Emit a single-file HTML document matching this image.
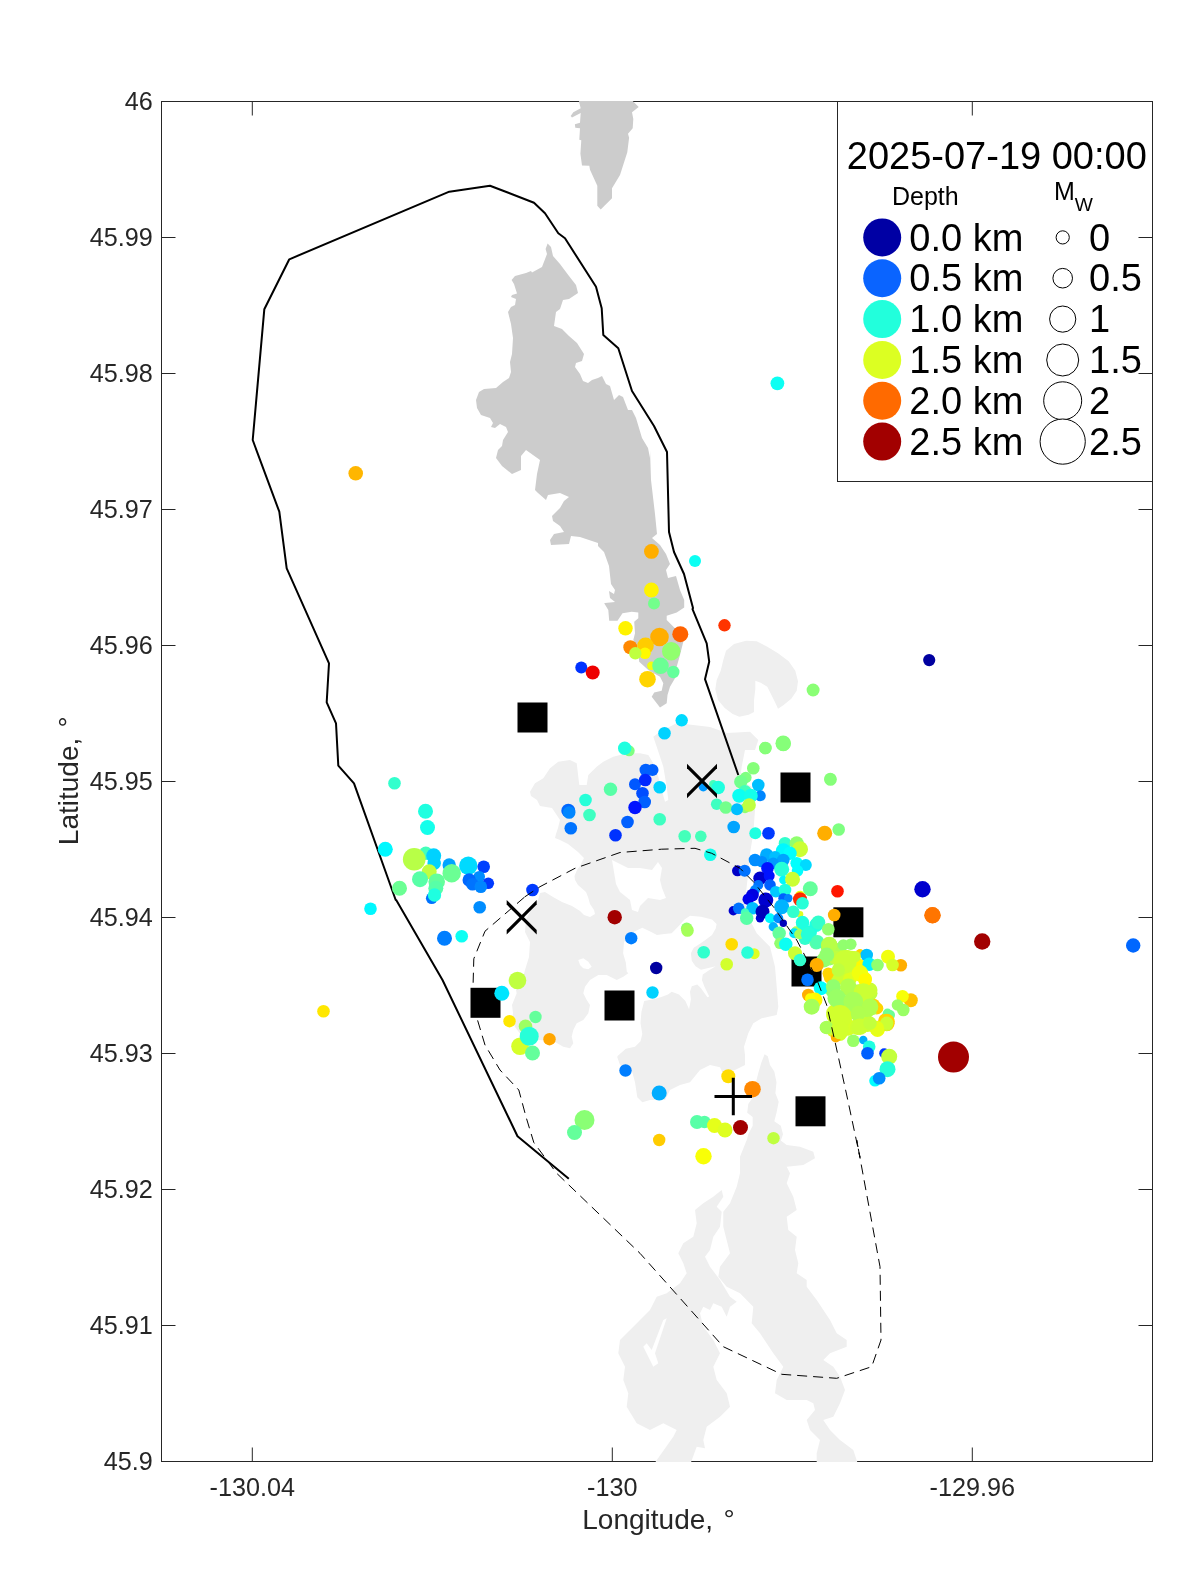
<!DOCTYPE html>
<html><head><meta charset="utf-8"><title>Seismicity map</title>
<style>
html,body{margin:0;padding:0;background:#fff}
svg{display:block;will-change:transform}
text{font-family:"Liberation Sans",Arial,Helvetica,sans-serif;fill:#262626}
.tk{font-size:25.2px}
.lg{font-size:38px;fill:#000}
</style></head><body>
<svg width="1200" height="1575" viewBox="0 0 1200 1575">
<rect width="1200" height="1575" fill="#fff"/>
<rect x="161.5" y="101.5" width="991.0" height="1360.0" fill="#fff" stroke="#262626" stroke-width="1"/>
<path d="M161.5 237.5 h14 M1152.5 237.5 h-14 M161.5 373.5 h14 M1152.5 373.5 h-14 M161.5 509.5 h14 M1152.5 509.5 h-14 M161.5 645.5 h14 M1152.5 645.5 h-14 M161.5 781.5 h14 M1152.5 781.5 h-14 M161.5 917.5 h14 M1152.5 917.5 h-14 M161.5 1053.5 h14 M1152.5 1053.5 h-14 M161.5 1189.5 h14 M1152.5 1189.5 h-14 M161.5 1325.5 h14 M1152.5 1325.5 h-14 M252.3 1461.5 v-14 M252.3 101.5 v14 M612.3 1461.5 v-14 M612.3 101.5 v14 M972.3 1461.5 v-14 M972.3 101.5 v14" stroke="#262626" stroke-width="1" fill="none"/>
<defs><clipPath id="ax"><rect x="161.0" y="101.0" width="992.0" height="1361.0"/></clipPath></defs>
<g clip-path="url(#ax)">
<path d="M530.0 791.7 L535.0 783.3 L543.3 778.3 L550.0 768.3 L558.3 761.7 L570.0 760.0 L576.7 763.3 L578.3 776.7 L579.3 785.0 L586.7 785.0 L588.3 775.0 L596.7 766.7 L603.3 761.7 L613.3 756.7 L626.7 753.3 L640.0 753.3 L648.3 755.0 L653.3 763.3 L658.3 776.7 L661.7 790.0 L665.0 801.7 L668.3 800.0 L666.7 786.7 L663.3 766.7 L656.7 746.7 L653.3 736.7 L660.0 731.7 L677.0 723.0 L693.3 725.0 L710.0 727.0 L727.0 733.0 L750.0 731.7 L758.3 740.0 L755.0 750.0 L745.0 750.0 L741.7 766.7 L740.0 780.0 L751.7 786.7 L755.0 810.0 L753.3 833.3 L750.0 853.3 L748.3 873.3 L745.0 900.0 L748.3 916.7 L756.7 933.3 L770.0 946.7 L775.0 966.7 L776.7 986.7 L778.3 1006.7 L776.7 1015.0 L761.7 1018.3 L753.3 1023.3 L748.3 1033.3 L744.0 1046.7 L745.0 1055.0 L745.0 1065.0 L735.0 1070.0 L722.3 1072.3 L720.0 1067.3 L710.0 1065.0 L700.0 1070.0 L690.0 1082.3 L680.0 1085.0 L670.0 1090.0 L665.0 1100.0 L650.0 1100.0 L642.3 1102.3 L637.3 1097.3 L635.0 1082.3 L632.3 1072.3 L620.0 1065.0 L617.3 1057.3 L617.6 1056.0 L625.8 1048.7 L635.0 1046.8 L640.5 1041.3 L642.3 1034.0 L640.5 1023.0 L641.4 1012.0 L644.2 1001.0 L653.3 999.2 L660.7 997.3 L668.0 994.6 L671.7 991.8 L679.0 994.6 L685.4 1001.0 L689.1 1009.2 L690.9 999.2 L690.0 991.8 L691.8 986.3 L697.3 984.5 L701.0 988.2 L707.4 997.3 L709.2 996.4 L704.7 987.2 L701.9 979.9 L702.8 974.4 L708.3 970.8 L715.7 966.2 L708.3 968.0 L701.0 969.8 L695.5 966.2 L691.8 960.7 L690.9 953.3 L693.7 947.8 L699.2 944.2 L704.7 940.5 L712.0 935.0 L715.7 928.6 L716.6 924.0 L712.0 919.4 L701.0 916.7 L690.0 915.8 L684.5 919.4 L679.0 925.8 L671.7 933.2 L664.3 934.1 L657.0 935.0 L649.7 931.3 L642.3 927.7 L635.0 931.3 L627.7 935.0 L624.0 942.3 L623.1 953.3 L625.8 962.5 L626.8 971.7 L628.3 973.3 L623.3 976.7 L616.7 980.0 L606.7 975.0 L598.3 975.0 L590.0 980.0 L585.0 986.7 L583.3 993.3 L586.7 1000.0 L590.0 1005.0 L588.3 1013.3 L583.3 1020.0 L576.7 1023.3 L573.3 1030.0 L571.7 1036.7 L573.3 1043.3 L570.0 1048.3 L563.3 1046.7 L555.0 1042.0 L540.0 1040.0 L525.0 1040.0 L515.0 1027.0 L512.0 1020.0 L513.0 1013.0 L512.0 1005.0 L516.7 993.3 L516.0 990.0 L522.0 982.0 L525.0 970.0 L529.0 957.0 L530.0 942.0 L525.0 932.0 L526.0 920.0 L531.7 908.3 L538.0 900.0 L540.0 893.0 L545.0 892.0 L553.0 897.0 L562.0 902.0 L572.0 906.0 L580.0 911.0 L584.0 915.0 L590.0 917.0 L595.0 914.0 L594.0 910.0 L590.0 904.0 L588.0 897.0 L586.0 892.0 L578.0 885.0 L575.0 880.0 L574.5 876.0 L577.0 870.0 L580.0 866.0 L584.0 858.0 L578.0 852.0 L568.0 844.0 L560.0 840.0 L555.0 838.0 L556.0 834.0 L558.0 828.0 L560.0 820.0 L552.0 808.0 L540.0 806.0 L537.0 800.0 L531.0 796.0 Z" fill="#efefef"/>
<path d="M715.3 689.3 L716.7 680.0 L720.7 670.7 L723.3 660.0 L726.0 650.7 L734.0 644.0 L746.0 640.7 L756.7 641.3 L767.3 646.7 L778.0 653.3 L788.7 661.3 L795.3 670.7 L798.0 681.3 L796.7 690.7 L791.3 698.7 L783.3 705.3 L778.0 708.7 L775.3 702.7 L771.3 694.7 L767.3 686.7 L760.7 682.7 L755.3 680.7 L755.3 689.3 L754.0 700.0 L754.0 712.0 L748.7 714.7 L739.3 716.7 L732.7 714.0 L724.7 708.0 L718.0 700.0 Z" fill="#efefef"/>
<path d="M721.7 1190.0 L723.3 1196.7 L716.7 1206.7 L721.7 1211.7 L720.0 1226.7 L713.3 1236.7 L710.0 1250.0 L705.0 1256.7 L710.0 1266.7 L720.0 1280.0 L730.0 1296.7 L736.7 1301.7 L730.0 1306.7 L726.7 1316.7 L721.7 1306.7 L713.3 1303.3 L710.0 1310.0 L703.3 1306.7 L700.0 1313.3 L703.3 1326.7 L713.3 1340.0 L720.0 1353.3 L713.3 1366.7 L716.7 1380.0 L726.7 1393.3 L730.0 1406.7 L720.0 1416.7 L706.7 1426.7 L703.3 1440.0 L705.0 1448.3 L696.7 1446.7 L690.0 1465.0 L653.3 1465.0 L673.3 1436.7 L676.7 1430.0 L663.3 1423.3 L650.0 1430.0 L636.7 1423.3 L626.7 1406.7 L628.3 1393.3 L623.3 1380.0 L625.0 1366.7 L618.3 1353.3 L620.0 1340.0 L633.3 1326.7 L650.0 1310.0 L656.7 1296.7 L666.7 1293.3 L680.0 1283.3 L686.7 1273.3 L683.3 1263.3 L678.3 1253.3 L683.3 1243.3 L693.3 1236.7 L696.7 1223.3 L695.0 1210.0 L703.3 1203.3 L713.3 1196.7 Z" fill="#efefef"/>
<path d="M764.6 1054.2 L767.8 1056.3 L770.0 1065.0 L774.3 1071.5 L776.5 1082.3 L775.4 1093.2 L778.7 1101.8 L776.5 1112.7 L774.3 1121.3 L780.8 1125.7 L783.0 1134.3 L780.8 1140.8 L780.0 1140.0 L786.7 1145.0 L800.0 1146.7 L813.3 1151.7 L815.0 1158.3 L803.3 1165.0 L786.7 1166.7 L790.0 1173.3 L786.7 1183.3 L793.3 1196.7 L796.7 1210.0 L786.7 1216.7 L788.3 1230.0 L796.7 1236.7 L795.0 1250.0 L798.3 1263.3 L796.7 1273.3 L806.7 1280.0 L806.7 1286.7 L816.7 1300.0 L830.0 1320.0 L836.7 1333.3 L846.7 1340.0 L846.7 1346.7 L830.0 1353.3 L823.3 1360.0 L833.3 1366.7 L840.0 1376.7 L845.0 1390.0 L840.0 1403.3 L833.3 1416.7 L823.3 1420.0 L830.0 1430.0 L840.0 1440.0 L853.3 1450.0 L858.3 1465.0 L816.7 1465.0 L816.7 1453.3 L820.0 1440.0 L810.0 1430.0 L806.7 1420.0 L815.0 1410.0 L813.3 1403.3 L806.7 1400.0 L786.7 1400.0 L775.0 1393.3 L776.7 1380.0 L783.3 1366.7 L773.3 1353.3 L760.0 1333.3 L751.7 1323.3 L753.3 1306.7 L740.0 1293.3 L726.7 1286.7 L718.3 1276.7 L720.0 1266.7 L730.0 1253.3 L723.3 1226.7 L723.3 1211.7 L730.0 1203.3 L736.7 1186.7 L740.0 1173.3 L740.0 1156.7 L746.7 1140.0 L746.6 1140.8 L748.3 1134.3 L752.7 1125.7 L752.7 1117.0 L747.2 1112.7 L748.3 1104.0 L752.7 1097.5 L754.8 1086.7 L758.1 1073.7 L761.3 1062.8 Z" fill="#efefef"/>
<path d="M578.7 100.3 L632.0 100.3 L638.7 107.0 L632.0 112.3 L633.3 119.0 L632.7 128.3 L628.0 133.7 L629.1 137.7 L627.3 152.3 L620.0 175.0 L612.0 188.3 L612.0 198.3 L600.7 209.4 L597.3 205.7 L597.3 185.7 L590.0 169.7 L589.3 165.7 L582.0 165.4 L580.4 153.7 L581.3 140.3 L579.3 139.7 L580.0 128.3 L575.3 127.7 L574.9 124.3 L580.0 122.7 L580.7 113.0 L572.0 117.4 L570.7 116.1 L573.3 112.3 L580.7 108.3 Z" fill="#cccccc"/>
<path d="M547.6 243.6 L551.0 247.0 L553.0 256.0 L560.0 264.0 L569.0 276.0 L576.0 285.0 L578.0 293.0 L569.0 299.0 L563.0 300.0 L560.0 309.0 L556.0 312.0 L554.0 326.0 L562.0 329.0 L569.0 336.0 L577.0 343.0 L584.0 354.0 L582.0 361.0 L576.0 363.0 L575.0 367.0 L580.0 374.0 L583.0 381.0 L588.0 383.0 L592.0 380.0 L598.0 378.0 L602.0 376.0 L606.0 384.0 L610.0 386.0 L614.0 400.0 L619.0 395.0 L623.0 397.0 L628.0 410.0 L632.0 410.0 L636.0 418.0 L642.0 438.0 L648.0 448.0 L650.0 458.0 L650.0 450.0 L651.0 480.0 L655.0 514.0 L657.0 534.0 L652.0 538.0 L660.0 545.0 L666.0 554.0 L670.0 564.0 L666.0 570.0 L668.0 578.0 L676.0 576.0 L680.0 590.0 L684.2 600.0 L684.2 607.5 L676.7 612.5 L666.7 615.8 L666.7 620.0 L676.7 630.0 L683.3 641.7 L680.0 655.0 L676.7 666.7 L675.0 678.3 L670.0 686.7 L667.5 695.0 L666.7 703.3 L660.0 707.5 L651.7 696.7 L654.2 692.5 L661.7 690.8 L663.3 683.3 L660.0 676.7 L648.3 670.0 L639.2 661.7 L638.3 650.0 L633.3 640.0 L635.0 633.3 L634.2 621.7 L638.3 618.3 L638.3 612.5 L631.7 611.7 L622.5 613.3 L617.5 620.8 L609.2 620.8 L608.3 610.0 L604.2 603.3 L605.0 603.0 L615.0 602.0 L610.0 598.0 L609.0 591.0 L614.0 594.0 L615.0 590.0 L611.0 584.0 L609.0 566.0 L604.0 552.0 L598.0 546.0 L598.0 543.0 L580.0 537.0 L571.0 536.0 L569.0 544.0 L551.0 545.0 L550.0 540.0 L554.0 534.0 L564.0 532.0 L560.0 526.0 L553.0 521.0 L552.0 516.0 L560.0 508.0 L564.0 501.0 L569.0 497.0 L560.0 493.0 L548.0 495.0 L546.0 500.0 L538.0 493.0 L535.0 490.0 L537.0 474.0 L540.0 460.0 L526.0 450.0 L521.0 456.0 L521.0 470.0 L512.0 474.0 L502.0 466.0 L496.0 458.0 L497.0 450.0 L496.0 458.0 L498.0 450.0 L502.0 446.0 L503.0 440.0 L508.0 432.0 L506.0 427.0 L500.0 424.0 L495.0 428.0 L491.0 427.0 L493.0 423.0 L490.0 418.0 L481.0 415.0 L477.0 408.0 L476.0 400.0 L479.0 392.0 L484.0 389.0 L496.0 388.0 L503.0 382.0 L509.0 378.0 L511.0 372.0 L510.0 362.0 L512.0 354.0 L513.0 338.0 L511.0 324.0 L508.0 312.0 L511.0 307.0 L515.0 305.0 L516.0 299.0 L511.0 297.0 L512.0 295.0 L517.0 293.6 L514.0 284.0 L511.6 280.0 L515.0 276.0 L526.0 273.0 L531.0 271.0 L532.0 272.4 L542.0 267.0 L547.0 254.0 L545.6 249.0 Z" fill="#cccccc"/>
<path d="M578.3 960.0 L583.3 958.3 L588.3 961.7 L591.7 966.7 L588.3 969.2 L583.3 968.3 L580.0 965.0 Z" fill="#fff"/>
<path d="M612.0 860.0 L620.0 864.0 L628.0 868.0 L640.0 868.0 L652.0 870.0 L658.0 862.0 L662.0 868.0 L660.0 880.0 L662.0 888.0 L666.0 898.0 L660.0 900.0 L648.0 898.0 L640.0 906.0 L638.0 912.0 L632.0 910.0 L630.0 900.0 L620.0 892.0 L616.0 884.0 L614.0 872.0 Z" fill="#fff"/>
<path d="M666.7 1318.3 L655.0 1353.3 L658.3 1363.3 L653.3 1366.7 L643.3 1346.7 L646.7 1343.3 L651.7 1350.0 L663.3 1320.0 Z" fill="#fff"/>
<path d="M568.8 1178.8 L517.5 1136.2 L442.5 980.0 L396.2 900.0 L395.7 900.0 L354.0 783.3 L338.3 765.7 L336.0 723.3 L326.7 702.3 L329.0 663.3 L286.7 568.3 L279.3 511.7 L252.7 440.0 L264.3 309.3 L289.3 259.3 L449.3 191.7 L490.0 185.7 L534.0 202.7 L545.0 213.3 L558.3 233.3 L565.0 238.3 L596.0 286.7 L601.7 308.3 L603.3 335.0 L618.3 348.3 L632.0 391.0 L654.0 426.0 L667.0 452.0 L669.0 532.0 L674.0 552.0 L684.0 574.0 L693.0 608.0 L692.5 609.2 L706.7 643.3 L709.2 661.7 L705.0 679.2 L738.3 775.0" fill="none" stroke="#000" stroke-width="2" stroke-linejoin="round"/>
<rect x="517.5" y="702.5" width="30" height="30" fill="#000"/>
<rect x="470.5" y="987.8" width="30" height="30" fill="#000"/>
<rect x="604.5" y="990.5" width="30" height="30" fill="#000"/>
<rect x="780.5" y="772.5" width="30" height="30" fill="#000"/>
<rect x="833.4" y="907.3" width="30" height="30" fill="#000"/>
<rect x="791.5" y="956.5" width="30" height="30" fill="#000"/>
<rect x="795.5" y="1096.3" width="30" height="30" fill="#000"/>
<circle cx="625.5" cy="628.3" r="7.2" fill="#fff300"/>
<circle cx="659.5" cy="637.0" r="9.3" fill="#ffae00"/>
<circle cx="680.3" cy="634.2" r="8.0" fill="#ff6200"/>
<circle cx="630.3" cy="647.2" r="7.0" fill="#ff8800"/>
<circle cx="645.5" cy="645.8" r="8.3" fill="#ffcc00"/>
<circle cx="645.0" cy="653.3" r="5.8" fill="#fffa00"/>
<circle cx="635.3" cy="653.3" r="6.2" fill="#bfff40"/>
<circle cx="671.2" cy="651.3" r="9.2" fill="#91ff6e"/>
<circle cx="651.3" cy="665.8" r="4.2" fill="#f1ff0e"/>
<circle cx="660.5" cy="665.8" r="8.3" fill="#6bff94"/>
<circle cx="673.3" cy="672.0" r="6.2" fill="#64ff9b"/>
<circle cx="647.5" cy="679.2" r="8.3" fill="#ffd400"/>
<circle cx="581.3" cy="667.5" r="6.0" fill="#0032ff"/>
<circle cx="592.7" cy="672.5" r="7.0" fill="#ee0000"/>
<circle cx="724.5" cy="625.3" r="6.2" fill="#ff3400"/>
<circle cx="681.7" cy="720.3" r="6.2" fill="#00daff"/>
<circle cx="664.5" cy="733.3" r="6.3" fill="#00d2ff"/>
<circle cx="651.4" cy="551.4" r="7.4" fill="#ffae00"/>
<circle cx="695.0" cy="561.0" r="6.0" fill="#0cfff3"/>
<circle cx="651.4" cy="590.0" r="7.4" fill="#fff300"/>
<circle cx="654.0" cy="603.6" r="6.0" fill="#73ff8c"/>
<circle cx="355.7" cy="473.3" r="7.3" fill="#ffb600"/>
<circle cx="777.4" cy="383.3" r="6.9" fill="#0cfff3"/>
<circle cx="929.2" cy="660.1" r="6.1" fill="#0000a0"/>
<circle cx="813.1" cy="690.0" r="6.5" fill="#8aff75"/>
<circle cx="783.2" cy="743.3" r="7.7" fill="#86ff79"/>
<circle cx="765.2" cy="748.2" r="6.1" fill="#86ff79"/>
<circle cx="830.3" cy="778.9" r="6.1" fill="#86ff79"/>
<circle cx="922.5" cy="889.2" r="8.2" fill="#0000ce"/>
<circle cx="932.5" cy="915.2" r="8.2" fill="#ff7500"/>
<circle cx="982.2" cy="941.5" r="8.2" fill="#a20000"/>
<circle cx="1133.2" cy="945.5" r="7.2" fill="#0067ff"/>
<circle cx="953.5" cy="1057.0" r="15.5" fill="#a20000"/>
<circle cx="765.5" cy="748.0" r="6.3" fill="#86ff79"/>
<circle cx="783.3" cy="743.7" r="7.5" fill="#86ff79"/>
<circle cx="753.3" cy="768.3" r="6.3" fill="#86ff79"/>
<circle cx="830.5" cy="779.5" r="6.3" fill="#86ff79"/>
<circle cx="745.8" cy="777.5" r="5.8" fill="#7eff81"/>
<circle cx="740.8" cy="781.7" r="6.7" fill="#73ff8c"/>
<circle cx="758.3" cy="785.0" r="6.3" fill="#00bfff"/>
<circle cx="760.3" cy="795.8" r="5.5" fill="#0086ff"/>
<circle cx="713.3" cy="784.2" r="4.2" fill="#45ffba"/>
<circle cx="703.3" cy="786.7" r="4.7" fill="#0099ff"/>
<circle cx="718.3" cy="787.5" r="6.7" fill="#1fffe0"/>
<circle cx="745.0" cy="791.7" r="6.7" fill="#45ffba"/>
<circle cx="739.2" cy="795.8" r="7.0" fill="#0cfff3"/>
<circle cx="750.8" cy="795.8" r="7.0" fill="#14ffeb"/>
<circle cx="745.0" cy="808.3" r="5.0" fill="#91ff6e"/>
<circle cx="749.2" cy="805.0" r="6.7" fill="#bfff40"/>
<circle cx="716.7" cy="804.2" r="5.8" fill="#3effc1"/>
<circle cx="725.8" cy="807.5" r="6.3" fill="#73ff8c"/>
<circle cx="737.0" cy="809.2" r="6.0" fill="#00bfff"/>
<circle cx="733.7" cy="827.0" r="6.3" fill="#00a4ff"/>
<circle cx="755.3" cy="833.3" r="6.0" fill="#1fffe0"/>
<circle cx="768.5" cy="833.3" r="6.3" fill="#003aff"/>
<circle cx="700.8" cy="836.3" r="5.8" fill="#45ffba"/>
<circle cx="710.3" cy="854.7" r="6.3" fill="#14ffeb"/>
<circle cx="824.7" cy="833.3" r="7.5" fill="#ffae00"/>
<circle cx="838.7" cy="829.5" r="6.3" fill="#7eff81"/>
<circle cx="837.5" cy="891.3" r="6.3" fill="#ff1600"/>
<circle cx="785.0" cy="843.3" r="6.3" fill="#32ffcd"/>
<circle cx="796.7" cy="843.3" r="7.0" fill="#91ff6e"/>
<circle cx="800.0" cy="849.2" r="8.0" fill="#cbff34"/>
<circle cx="783.3" cy="850.8" r="7.5" fill="#00f8ff"/>
<circle cx="790.0" cy="853.3" r="6.7" fill="#01fffe"/>
<circle cx="766.7" cy="855.0" r="6.7" fill="#00acff"/>
<circle cx="775.0" cy="856.7" r="5.8" fill="#00bfff"/>
<circle cx="755.0" cy="860.0" r="6.3" fill="#008dff"/>
<circle cx="761.7" cy="861.7" r="5.8" fill="#008dff"/>
<circle cx="783.3" cy="860.0" r="6.3" fill="#00a4ff"/>
<circle cx="773.3" cy="863.3" r="5.8" fill="#0099ff"/>
<circle cx="796.7" cy="863.3" r="6.3" fill="#01fffe"/>
<circle cx="805.8" cy="865.0" r="6.0" fill="#00daff"/>
<circle cx="781.7" cy="869.2" r="7.5" fill="#27ffd8"/>
<circle cx="767.5" cy="868.3" r="6.3" fill="#0013ff"/>
<circle cx="797.5" cy="870.8" r="5.8" fill="#01fffe"/>
<circle cx="737.5" cy="870.8" r="5.5" fill="#0000c6"/>
<circle cx="744.7" cy="870.8" r="6.0" fill="#0073ff"/>
<circle cx="783.3" cy="880.0" r="4.2" fill="#00f8ff"/>
<circle cx="760.0" cy="878.3" r="6.7" fill="#0000ce"/>
<circle cx="769.2" cy="875.8" r="5.5" fill="#0013ff"/>
<circle cx="792.5" cy="879.2" r="7.5" fill="#cbff34"/>
<circle cx="758.3" cy="885.0" r="5.0" fill="#0073ff"/>
<circle cx="770.0" cy="885.0" r="5.8" fill="#0060ff"/>
<circle cx="810.3" cy="888.8" r="7.5" fill="#64ff9b"/>
<circle cx="755.0" cy="890.0" r="5.0" fill="#0086ff"/>
<circle cx="775.8" cy="891.7" r="5.8" fill="#00caff"/>
<circle cx="785.0" cy="890.0" r="6.3" fill="#1fffe0"/>
<circle cx="752.5" cy="895.0" r="6.3" fill="#0000e1"/>
<circle cx="748.3" cy="899.2" r="5.8" fill="#0000ec"/>
<circle cx="765.8" cy="900.0" r="7.5" fill="#0000ce"/>
<circle cx="800.0" cy="895.8" r="5.0" fill="#f1ff0e"/>
<circle cx="800.0" cy="899.2" r="7.0" fill="#ff2900"/>
<circle cx="802.5" cy="903.3" r="6.3" fill="#27ffd8"/>
<circle cx="783.3" cy="898.3" r="5.0" fill="#0060ff"/>
<circle cx="788.3" cy="898.3" r="4.2" fill="#0086ff"/>
<circle cx="781.7" cy="906.7" r="7.5" fill="#00b3ff"/>
<circle cx="733.3" cy="910.8" r="4.7" fill="#0000ce"/>
<circle cx="738.7" cy="908.3" r="5.8" fill="#0073ff"/>
<circle cx="752.5" cy="908.3" r="6.3" fill="#00bfff"/>
<circle cx="745.0" cy="912.5" r="4.2" fill="#45ffba"/>
<circle cx="746.7" cy="918.3" r="6.7" fill="#58ffa7"/>
<circle cx="760.0" cy="918.3" r="4.2" fill="#0000ce"/>
<circle cx="762.5" cy="911.7" r="7.0" fill="#0000bb"/>
<circle cx="827.5" cy="946.7" r="7.1" fill="#99ff66"/>
<circle cx="838.3" cy="950.0" r="7.1" fill="#b0ff4f"/>
<circle cx="830.0" cy="958.3" r="7.1" fill="#99ff66"/>
<circle cx="842.5" cy="960.0" r="7.5" fill="#ceff31"/>
<circle cx="851.7" cy="958.3" r="7.5" fill="#ceff31"/>
<circle cx="845.0" cy="970.0" r="7.5" fill="#ceff31"/>
<circle cx="855.0" cy="971.7" r="7.5" fill="#d6ff29"/>
<circle cx="858.3" cy="965.0" r="6.7" fill="#fffa00"/>
<circle cx="865.0" cy="979.2" r="6.7" fill="#fffa00"/>
<circle cx="829.2" cy="974.2" r="6.2" fill="#ffd400"/>
<circle cx="833.3" cy="988.3" r="7.5" fill="#8aff75"/>
<circle cx="836.7" cy="998.3" r="7.5" fill="#91ff6e"/>
<circle cx="848.3" cy="988.3" r="7.5" fill="#b0ff4f"/>
<circle cx="858.3" cy="991.7" r="7.5" fill="#bfff40"/>
<circle cx="870.0" cy="993.3" r="7.5" fill="#bfff40"/>
<circle cx="851.7" cy="1001.7" r="7.5" fill="#9dff62"/>
<circle cx="863.3" cy="1005.0" r="7.5" fill="#a8ff57"/>
<circle cx="876.7" cy="1008.3" r="6.2" fill="#ffd400"/>
<circle cx="871.7" cy="1008.3" r="7.1" fill="#b0ff4f"/>
<circle cx="834.2" cy="1012.5" r="7.9" fill="#d6ff29"/>
<circle cx="844.2" cy="1016.7" r="7.9" fill="#d6ff29"/>
<circle cx="838.3" cy="1026.7" r="7.9" fill="#d6ff29"/>
<circle cx="848.3" cy="1028.3" r="7.5" fill="#d6ff29"/>
<circle cx="840.0" cy="1034.2" r="6.7" fill="#d6ff29"/>
<circle cx="858.3" cy="1025.0" r="7.5" fill="#ceff31"/>
<circle cx="868.3" cy="1023.3" r="7.5" fill="#cbff34"/>
<circle cx="878.3" cy="1029.2" r="6.7" fill="#f1ff0e"/>
<circle cx="886.7" cy="1023.3" r="7.9" fill="#ffcc00"/>
<circle cx="886.7" cy="1024.2" r="6.7" fill="#c3ff3c"/>
<circle cx="825.8" cy="1027.5" r="6.2" fill="#9dff62"/>
<circle cx="856.7" cy="1013.3" r="7.5" fill="#b0ff4f"/>
<circle cx="830.0" cy="945.0" r="7.5" fill="#9dff62"/>
<circle cx="823.8" cy="960.0" r="7.5" fill="#91ff6e"/>
<circle cx="835.0" cy="957.5" r="6.9" fill="#bfff40"/>
<circle cx="830.0" cy="977.5" r="6.2" fill="#ffd400"/>
<circle cx="838.8" cy="977.5" r="7.5" fill="#cbff34"/>
<circle cx="850.0" cy="978.8" r="6.9" fill="#deff21"/>
<circle cx="847.5" cy="957.5" r="7.5" fill="#cbff34"/>
<circle cx="857.5" cy="967.5" r="6.9" fill="#fffa00"/>
<circle cx="865.0" cy="978.8" r="6.9" fill="#fffa00"/>
<circle cx="870.0" cy="990.0" r="7.5" fill="#cbff34"/>
<circle cx="861.2" cy="997.5" r="7.5" fill="#b8ff47"/>
<circle cx="840.0" cy="1000.0" r="7.5" fill="#91ff6e"/>
<circle cx="832.5" cy="990.0" r="7.5" fill="#8aff75"/>
<circle cx="873.8" cy="1005.0" r="6.2" fill="#ffd400"/>
<circle cx="867.5" cy="1010.0" r="7.5" fill="#b0ff4f"/>
<circle cx="835.0" cy="1015.0" r="8.8" fill="#d6ff29"/>
<circle cx="845.0" cy="1025.0" r="8.8" fill="#d6ff29"/>
<circle cx="833.8" cy="1030.0" r="7.5" fill="#d6ff29"/>
<circle cx="857.5" cy="1027.5" r="7.5" fill="#ceff31"/>
<circle cx="867.5" cy="1025.0" r="6.9" fill="#cbff34"/>
<circle cx="877.5" cy="1030.0" r="6.9" fill="#f1ff0e"/>
<circle cx="886.2" cy="1021.2" r="8.1" fill="#ffcc00"/>
<circle cx="890.0" cy="1015.0" r="5.0" fill="#6bff94"/>
<circle cx="810.0" cy="932.5" r="6.9" fill="#1fffe0"/>
<circle cx="802.5" cy="925.0" r="6.2" fill="#18ffe7"/>
<circle cx="816.2" cy="925.0" r="6.9" fill="#1fffe0"/>
<circle cx="805.0" cy="938.8" r="6.2" fill="#32ffcd"/>
<circle cx="816.2" cy="942.5" r="6.9" fill="#58ffa7"/>
<circle cx="796.2" cy="931.2" r="5.0" fill="#a5ff5a"/>
<circle cx="800.0" cy="914.2" r="3.3" fill="#deff21"/>
<circle cx="793.3" cy="911.7" r="6.3" fill="#32ffcd"/>
<circle cx="770.0" cy="918.3" r="5.0" fill="#00f8ff"/>
<circle cx="778.3" cy="918.3" r="5.0" fill="#008dff"/>
<circle cx="783.3" cy="923.3" r="3.7" fill="#0000bb"/>
<circle cx="773.3" cy="926.7" r="4.7" fill="#00b3ff"/>
<circle cx="802.5" cy="922.5" r="6.7" fill="#1fffe0"/>
<circle cx="818.3" cy="922.5" r="7.0" fill="#32ffcd"/>
<circle cx="834.2" cy="915.0" r="6.3" fill="#ffae00"/>
<circle cx="932.5" cy="915.3" r="8.0" fill="#ff7500"/>
<circle cx="828.3" cy="929.2" r="6.3" fill="#91ff6e"/>
<circle cx="779.2" cy="933.3" r="6.7" fill="#64ff9b"/>
<circle cx="794.2" cy="933.3" r="5.0" fill="#00e5ff"/>
<circle cx="799.2" cy="934.2" r="5.0" fill="#a5ff5a"/>
<circle cx="808.3" cy="934.2" r="7.5" fill="#27ffd8"/>
<circle cx="780.0" cy="943.3" r="5.8" fill="#91ff6e"/>
<circle cx="785.8" cy="944.2" r="6.7" fill="#0cfff3"/>
<circle cx="817.5" cy="941.7" r="6.7" fill="#4dffb2"/>
<circle cx="829.2" cy="945.0" r="8.3" fill="#b8ff47"/>
<circle cx="843.3" cy="945.0" r="5.8" fill="#91ff6e"/>
<circle cx="850.8" cy="944.2" r="5.8" fill="#91ff6e"/>
<circle cx="795.0" cy="953.3" r="7.0" fill="#cbff34"/>
<circle cx="800.0" cy="960.0" r="6.3" fill="#32ffcd"/>
<circle cx="826.7" cy="955.0" r="7.5" fill="#91ff6e"/>
<circle cx="860.0" cy="953.3" r="4.2" fill="#ffd400"/>
<circle cx="866.7" cy="955.0" r="6.3" fill="#00bfff"/>
<circle cx="869.2" cy="964.2" r="6.7" fill="#00f0ff"/>
<circle cx="877.5" cy="965.0" r="6.3" fill="#91ff6e"/>
<circle cx="900.8" cy="965.3" r="6.3" fill="#ffae00"/>
<circle cx="888.0" cy="956.7" r="7.0" fill="#f1ff0e"/>
<circle cx="892.5" cy="965.0" r="6.3" fill="#d6ff29"/>
<circle cx="816.7" cy="965.0" r="7.0" fill="#ffae00"/>
<circle cx="807.5" cy="979.7" r="6.3" fill="#0073ff"/>
<circle cx="855.0" cy="956.7" r="5.8" fill="#cbff34"/>
<circle cx="845.0" cy="961.7" r="11.7" fill="#cbff34"/>
<circle cx="828.3" cy="973.3" r="5.8" fill="#ffd400"/>
<circle cx="838.3" cy="970.0" r="6.7" fill="#bfff40"/>
<circle cx="860.0" cy="973.3" r="8.3" fill="#f1ff0e"/>
<circle cx="865.0" cy="980.0" r="6.7" fill="#fffa00"/>
<circle cx="820.8" cy="988.3" r="7.0" fill="#01fffe"/>
<circle cx="833.3" cy="986.7" r="7.5" fill="#91ff6e"/>
<circle cx="848.3" cy="986.7" r="8.3" fill="#b0ff4f"/>
<circle cx="863.3" cy="993.3" r="10.0" fill="#cbff34"/>
<circle cx="808.3" cy="995.0" r="6.3" fill="#ffae00"/>
<circle cx="815.0" cy="1000.0" r="7.5" fill="#fffa00"/>
<circle cx="810.0" cy="998.3" r="5.0" fill="#fcff03"/>
<circle cx="811.7" cy="1006.7" r="8.0" fill="#a5ff5a"/>
<circle cx="836.7" cy="998.3" r="9.2" fill="#99ff66"/>
<circle cx="853.3" cy="1001.7" r="10.0" fill="#a8ff57"/>
<circle cx="878.3" cy="1008.3" r="5.0" fill="#ffd400"/>
<circle cx="870.0" cy="1006.7" r="8.3" fill="#b0ff4f"/>
<circle cx="910.8" cy="1000.3" r="7.0" fill="#ffc100"/>
<circle cx="902.5" cy="996.3" r="6.3" fill="#f8ff07"/>
<circle cx="897.5" cy="1005.0" r="5.8" fill="#99ff66"/>
<circle cx="903.3" cy="1010.0" r="6.3" fill="#99ff66"/>
<circle cx="835.8" cy="1037.5" r="5.0" fill="#ffae00"/>
<circle cx="840.0" cy="1016.7" r="11.7" fill="#d2ff2d"/>
<circle cx="858.3" cy="1013.3" r="7.5" fill="#b0ff4f"/>
<circle cx="887.5" cy="1013.3" r="4.7" fill="#6bff94"/>
<circle cx="886.7" cy="1021.7" r="8.0" fill="#ffd400"/>
<circle cx="886.7" cy="1023.3" r="6.7" fill="#cbff34"/>
<circle cx="876.7" cy="1028.3" r="7.5" fill="#e5ff1a"/>
<circle cx="826.7" cy="1027.5" r="6.7" fill="#a8ff57"/>
<circle cx="840.0" cy="1030.0" r="9.2" fill="#d2ff2d"/>
<circle cx="860.0" cy="1026.7" r="8.3" fill="#cbff34"/>
<circle cx="870.0" cy="1023.3" r="6.7" fill="#c3ff3c"/>
<circle cx="853.3" cy="1040.8" r="6.3" fill="#99ff66"/>
<circle cx="863.3" cy="1040.0" r="4.2" fill="#00acff"/>
<circle cx="869.2" cy="1046.7" r="6.3" fill="#1fffe0"/>
<circle cx="867.5" cy="1053.3" r="6.3" fill="#0060ff"/>
<circle cx="884.2" cy="1053.3" r="5.0" fill="#003aff"/>
<circle cx="889.2" cy="1056.7" r="8.0" fill="#c3ff3c"/>
<circle cx="887.5" cy="1069.2" r="8.0" fill="#27ffd8"/>
<circle cx="875.0" cy="1080.8" r="5.8" fill="#01fffe"/>
<circle cx="879.2" cy="1078.3" r="6.3" fill="#008dff"/>
<circle cx="629.2" cy="750.8" r="5.5" fill="#7eff81"/>
<circle cx="624.7" cy="748.3" r="6.7" fill="#1fffe0"/>
<circle cx="645.8" cy="770.0" r="6.3" fill="#0060ff"/>
<circle cx="652.5" cy="770.0" r="6.0" fill="#0060ff"/>
<circle cx="635.0" cy="784.2" r="6.0" fill="#0058ff"/>
<circle cx="645.3" cy="780.0" r="6.3" fill="#0027ff"/>
<circle cx="659.7" cy="787.2" r="6.3" fill="#00d2ff"/>
<circle cx="642.5" cy="793.3" r="6.3" fill="#004dff"/>
<circle cx="644.7" cy="802.0" r="6.3" fill="#0060ff"/>
<circle cx="635.0" cy="807.5" r="6.7" fill="#0013ff"/>
<circle cx="610.5" cy="789.2" r="6.7" fill="#58ffa7"/>
<circle cx="585.5" cy="800.0" r="6.3" fill="#27ffd8"/>
<circle cx="589.5" cy="815.0" r="6.3" fill="#3effc1"/>
<circle cx="568.3" cy="810.8" r="7.0" fill="#0067ff"/>
<circle cx="569.2" cy="812.5" r="6.3" fill="#0086ff"/>
<circle cx="570.8" cy="828.3" r="6.3" fill="#0073ff"/>
<circle cx="627.5" cy="822.0" r="6.3" fill="#0060ff"/>
<circle cx="615.5" cy="835.3" r="6.3" fill="#0032ff"/>
<circle cx="659.7" cy="819.2" r="6.3" fill="#3effc1"/>
<circle cx="684.7" cy="836.2" r="6.3" fill="#45ffba"/>
<circle cx="532.5" cy="890.0" r="6.3" fill="#003aff"/>
<circle cx="614.7" cy="917.2" r="7.2" fill="#a20000"/>
<circle cx="686.7" cy="928.3" r="5.8" fill="#91ff6e"/>
<circle cx="394.5" cy="783.3" r="6.3" fill="#32ffcd"/>
<circle cx="425.5" cy="811.2" r="7.5" fill="#1fffe0"/>
<circle cx="427.5" cy="827.5" r="7.5" fill="#14ffeb"/>
<circle cx="385.3" cy="849.2" r="7.5" fill="#00f8ff"/>
<circle cx="370.5" cy="908.8" r="6.3" fill="#00f8ff"/>
<circle cx="399.5" cy="888.3" r="7.5" fill="#6bff94"/>
<circle cx="425.8" cy="853.3" r="6.7" fill="#45ffba"/>
<circle cx="414.2" cy="859.2" r="11.3" fill="#b8ff47"/>
<circle cx="449.2" cy="865.0" r="6.7" fill="#00a4ff"/>
<circle cx="433.7" cy="855.8" r="7.5" fill="#00d2ff"/>
<circle cx="434.2" cy="863.3" r="6.7" fill="#00d2ff"/>
<circle cx="429.2" cy="871.7" r="7.5" fill="#bfff40"/>
<circle cx="420.0" cy="879.2" r="8.0" fill="#58ffa7"/>
<circle cx="451.7" cy="873.3" r="9.2" fill="#6bff94"/>
<circle cx="436.7" cy="881.7" r="8.3" fill="#64ff9b"/>
<circle cx="435.8" cy="888.3" r="7.5" fill="#58ffa7"/>
<circle cx="431.7" cy="898.3" r="5.8" fill="#0073ff"/>
<circle cx="434.5" cy="895.0" r="6.7" fill="#1fffe0"/>
<circle cx="468.3" cy="865.8" r="9.2" fill="#00daff"/>
<circle cx="483.7" cy="866.7" r="6.3" fill="#0041ff"/>
<circle cx="479.2" cy="876.7" r="5.8" fill="#008dff"/>
<circle cx="469.2" cy="880.0" r="6.7" fill="#0067ff"/>
<circle cx="472.5" cy="884.2" r="6.3" fill="#0073ff"/>
<circle cx="488.3" cy="883.3" r="5.8" fill="#003aff"/>
<circle cx="480.8" cy="886.7" r="6.3" fill="#0086ff"/>
<circle cx="479.7" cy="907.2" r="6.3" fill="#008dff"/>
<circle cx="444.5" cy="938.3" r="7.5" fill="#007eff"/>
<circle cx="461.7" cy="936.3" r="6.3" fill="#0cfff3"/>
<circle cx="631.2" cy="938.2" r="6.2" fill="#007eff"/>
<circle cx="656.2" cy="968.0" r="6.2" fill="#0000a0"/>
<circle cx="652.5" cy="992.5" r="6.2" fill="#00d2ff"/>
<circle cx="517.5" cy="980.5" r="8.8" fill="#bfff40"/>
<circle cx="501.8" cy="993.2" r="7.5" fill="#00e5ff"/>
<circle cx="509.5" cy="1021.2" r="6.2" fill="#ffe700"/>
<circle cx="535.5" cy="1017.0" r="6.2" fill="#64ff9b"/>
<circle cx="525.5" cy="1026.2" r="6.8" fill="#9dff62"/>
<circle cx="520.0" cy="1046.2" r="8.8" fill="#d6ff29"/>
<circle cx="529.2" cy="1036.2" r="9.5" fill="#27ffd8"/>
<circle cx="532.5" cy="1053.0" r="7.5" fill="#64ff9b"/>
<circle cx="549.5" cy="1039.2" r="6.2" fill="#ffa600"/>
<circle cx="625.5" cy="1070.5" r="6.2" fill="#007eff"/>
<circle cx="659.2" cy="1093.0" r="7.5" fill="#00acff"/>
<circle cx="584.5" cy="1120.0" r="10.0" fill="#8aff75"/>
<circle cx="574.5" cy="1132.5" r="7.5" fill="#64ff9b"/>
<circle cx="659.2" cy="1140.0" r="6.2" fill="#ffcc00"/>
<circle cx="687.5" cy="930.5" r="6.3" fill="#a5ff5a"/>
<circle cx="703.7" cy="952.2" r="6.3" fill="#32ffcd"/>
<circle cx="731.7" cy="944.2" r="6.3" fill="#ffdc00"/>
<circle cx="726.7" cy="964.2" r="6.3" fill="#d2ff2d"/>
<circle cx="754.2" cy="953.7" r="5.5" fill="#deff21"/>
<circle cx="747.5" cy="952.5" r="6.3" fill="#27ffd8"/>
<circle cx="728.3" cy="1076.3" r="7.0" fill="#ffdc00"/>
<circle cx="752.5" cy="1089.2" r="8.3" fill="#ff8800"/>
<circle cx="697.0" cy="1122.0" r="7.0" fill="#58ffa7"/>
<circle cx="704.5" cy="1122.0" r="6.2" fill="#58ffa7"/>
<circle cx="714.5" cy="1125.5" r="7.5" fill="#e5ff1a"/>
<circle cx="725.0" cy="1130.0" r="7.5" fill="#deff21"/>
<circle cx="740.5" cy="1127.5" r="7.5" fill="#a20000"/>
<circle cx="773.5" cy="1138.2" r="6.2" fill="#bfff40"/>
<circle cx="703.5" cy="1156.2" r="8.2" fill="#f8ff07"/>
<circle cx="323.5" cy="1011.3" r="6.3" fill="#ffe700"/>
<path d="M525.0 896.7 L540.0 886.7 L575.0 868.3 L620.0 852.5 L661.7 849.2 L695.0 848.3 L711.7 853.3 L740.0 868.3 L753.3 881.7 L773.3 906.7 L796.7 940.0 L815.0 975.0 L826.7 1005.0 L835.0 1041.7 L846.7 1095.0 L860.0 1157.5 L856.7 1140.0 L880.0 1266.7 L881.0 1340.0 L871.7 1366.7 L836.7 1378.3 L781.7 1374.3 L723.3 1346.7 L640.0 1253.3 L556.7 1173.3 L533.8 1142.5 L526.2 1117.5 L518.8 1090.0 L500.0 1070.0 L485.0 1045.0 L477.5 1020.0 L473.0 987.5 L473.8 958.8 L485.0 931.2 L525.0 896.7" fill="none" stroke="#000" stroke-width="1" stroke-dasharray="10 6"/>
<path d="M687.0 763.7 v4.6 l30 30 v-4.6 Z" fill="#000"/><path d="M717.0 763.7 v4.6 l-30 30 v-4.6 Z" fill="#000"/>
<path d="M506.7 900.0 v4.6 l30 30 v-4.6 Z" fill="#000"/><path d="M536.7 900.0 v4.6 l-30 30 v-4.6 Z" fill="#000"/>
<path d="M714.5 1096.5 h37.5 M733.3 1077.8 v37.5" stroke="#000" stroke-width="3" fill="none"/>
</g>
<text class="tk" x="152.8" y="109.8" text-anchor="end">46</text>
<text class="tk" x="152.8" y="245.8" text-anchor="end">45.99</text>
<text class="tk" x="152.8" y="381.8" text-anchor="end">45.98</text>
<text class="tk" x="152.8" y="517.8" text-anchor="end">45.97</text>
<text class="tk" x="152.8" y="653.8" text-anchor="end">45.96</text>
<text class="tk" x="152.8" y="789.8" text-anchor="end">45.95</text>
<text class="tk" x="152.8" y="925.8" text-anchor="end">45.94</text>
<text class="tk" x="152.8" y="1061.8" text-anchor="end">45.93</text>
<text class="tk" x="152.8" y="1197.8" text-anchor="end">45.92</text>
<text class="tk" x="152.8" y="1333.8" text-anchor="end">45.91</text>
<text class="tk" x="152.8" y="1469.8" text-anchor="end">45.9</text>
<text class="tk" x="252.3" y="1495.5" text-anchor="middle">-130.04</text>
<text class="tk" x="612.3" y="1495.5" text-anchor="middle">-130</text>
<text class="tk" x="972.3" y="1495.5" text-anchor="middle">-129.96</text>
<text x="582.3" y="1529.3" style="font-size:28px">Longitude, <tspan dx="2.5">°</tspan></text>
<text transform="translate(78.3,780.7) rotate(-90)" text-anchor="middle" style="font-size:28px">Latitude, <tspan dx="2.5">°</tspan></text>
<rect x="837.5" y="101.5" width="315" height="380" fill="#fff" stroke="#262626" stroke-width="1"/>
<text class="lg" x="846.8" y="169.3">2025-07-19 00:00</text>
<text x="892" y="205" style="font-size:25px;fill:#000">Depth</text>
<text x="1054" y="199.5" style="font-size:25px;fill:#000">M<tspan dy="11.8" style="font-size:19.2px">W</tspan></text>
<circle cx="882.2" cy="237.4" r="19" fill="#0000a4"/>
<text class="lg" x="909.3" y="250.6">0.0 km</text>
<circle cx="1062.7" cy="237.4" r="6.6" fill="#fff" stroke="#000" stroke-width="1"/>
<text class="lg" x="1089" y="250.6">0</text>
<circle cx="882.2" cy="278.2" r="19" fill="#0a64ff"/>
<text class="lg" x="909.3" y="291.4">0.5 km</text>
<circle cx="1062.7" cy="278.2" r="9.8" fill="#fff" stroke="#000" stroke-width="1"/>
<text class="lg" x="1089" y="291.4">0.5</text>
<circle cx="882.2" cy="319.1" r="19" fill="#22ffdc"/>
<text class="lg" x="909.3" y="332.3">1.0 km</text>
<circle cx="1062.7" cy="319.1" r="13.1" fill="#fff" stroke="#000" stroke-width="1"/>
<text class="lg" x="1089" y="332.3">1</text>
<circle cx="882.2" cy="360.0" r="19" fill="#dcff22"/>
<text class="lg" x="909.3" y="373.2">1.5 km</text>
<circle cx="1062.7" cy="360.0" r="16.0" fill="#fff" stroke="#000" stroke-width="1"/>
<text class="lg" x="1089" y="373.2">1.5</text>
<circle cx="882.2" cy="400.8" r="19" fill="#ff6a00"/>
<text class="lg" x="909.3" y="414.0">2.0 km</text>
<circle cx="1062.7" cy="400.8" r="19.0" fill="#fff" stroke="#000" stroke-width="1"/>
<text class="lg" x="1089" y="414.0">2</text>
<circle cx="882.2" cy="441.6" r="19" fill="#a20000"/>
<text class="lg" x="909.3" y="454.8">2.5 km</text>
<circle cx="1062.7" cy="441.6" r="22.6" fill="#fff" stroke="#000" stroke-width="1"/>
<text class="lg" x="1089" y="454.8">2.5</text>
<path d="M972.3 101.5 v14 M1152.5 237.5 h-14 M1152.5 373.5 h-14" stroke="#262626" stroke-width="1" fill="none"/>
</svg>
</body></html>
